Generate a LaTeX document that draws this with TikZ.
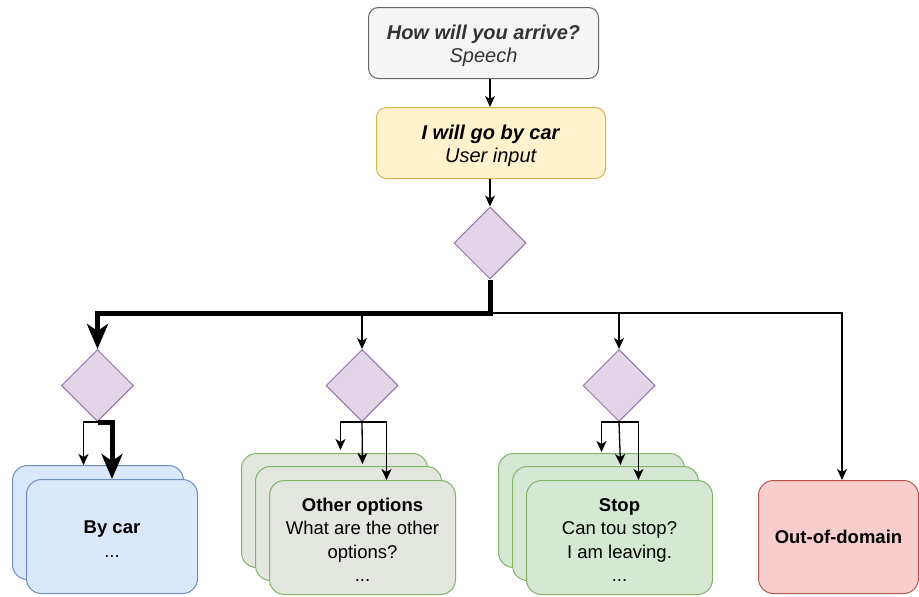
\documentclass[tikz,border=0pt]{standalone}
\usepackage{fontspec}
\setmainfont{Liberation Sans}
\usetikzlibrary{shapes.geometric,arrows.meta}
\definecolor{grayfill}{HTML}{F5F5F5}
\definecolor{graystroke}{HTML}{666666}
\definecolor{graytext}{HTML}{333333}
\definecolor{yelfill}{HTML}{FFF2CC}
\definecolor{yelstroke}{HTML}{D6B656}
\definecolor{purfill}{HTML}{E1D5E7}
\definecolor{purstroke}{HTML}{9673A6}
\definecolor{bluefill}{HTML}{DAE8FC}
\definecolor{bluestroke}{HTML}{6C8EBF}
\definecolor{greenfill}{HTML}{D5E8D4}
\definecolor{greyfill}{HTML}{E4E7DF}
\definecolor{greenstroke}{HTML}{82B366}
\definecolor{redfill}{HTML}{F8CECC}
\definecolor{redstroke}{HTML}{B85450}
\tikzset{
  txt/.style={font=\fontsize{18.5}{23.5}\selectfont, align=center, inner sep=0pt},
  topbox/.style={txt, font=\fontsize{20}{23}\selectfont, draw, rectangle, rounded corners=10pt, line width=1pt, anchor=north west},
  card/.style={txt, draw, rectangle, rounded corners=15pt, line width=1pt, anchor=north west,
     minimum width=186pt, minimum height=114pt},
  dec/.style={draw=purstroke, fill=purfill, diamond, aspect=1, minimum width=72pt, minimum height=72pt, inner sep=0pt, line width=1pt},
  conn/.style={line width=1.3pt, -{Stealth[length=11pt,width=10pt,inset=3pt]}},
  bigconn/.style={line width=5pt, line join=miter, -{Stealth[length=25pt,width=21pt,inset=7pt]}},
}
\newcommand{\topstrut}{\rule{0pt}{20.5pt}}
\newcommand{\cardstrut}{\rule{0pt}{18pt}}
\begin{document}
\begin{tikzpicture}[x=1pt,y=-1pt]
\useasboundingbox (0,0) rectangle (919,597);
% top boxes
\node[topbox, fill=grayfill, draw=graystroke, text=graytext, minimum width=230pt, minimum height=71pt] (q) at (368,7)
  {\topstrut\textbf{\textit{How will you arrive?}}\\\textit{Speech}};
\node[topbox, fill=yelfill, draw=yelstroke, minimum width=229pt, minimum height=71pt] (u) at (376,107)
  {\topstrut\textbf{\textit{I will go by car}}\\\textit{User input}};
% diamonds
\node[dec] (d0) at (490,243) {};
\node[dec] (d1) at (97.5,385.5) {};
\node[dec] (d2) at (362,385.5) {};
\node[dec] (d3) at (619,385.5) {};
% blue cards
\node[card, fill=bluefill, draw=bluestroke, minimum width=171pt] (b1a) at (12,465) {};
\node[card, fill=bluefill, draw=bluestroke, minimum width=171pt] (b1b) at (26,479) {\cardstrut\textbf{By car}\\...};
% other options cards
\node[card, fill=greyfill, draw=greenstroke] (b2a) at (241,453) {};
\node[card, fill=greyfill, draw=greenstroke] (b2b) at (255,466) {};
\node[card, fill=greyfill, draw=greenstroke] (b2c) at (269,480) {\cardstrut\textbf{Other options}\\What are the other\\options?\\...};
% stop cards
\node[card, fill=greenfill, draw=greenstroke] (b3a) at (498,453) {};
\node[card, fill=greenfill, draw=greenstroke] (b3b) at (512,466) {};
\node[card, fill=greenfill, draw=greenstroke] (b3c) at (526,480) {\cardstrut\textbf{Stop}\\Can tou stop?\\I am leaving.\\...};
% out of domain
\node[card, fill=redfill, draw=redstroke, minimum width=160pt, minimum height=113pt] (ood) at (758,480) {\textbf{Out-of-domain}};
% connectors
\draw[conn] (q.south -| d0) -- (u.north -| d0);
\draw[conn] (u.south -| d0) -- (d0.north);
\coordinate (bus) at (490,313);
\draw[conn] (bus) -| (ood.north -| 842,0);
\draw[conn] (bus -| d2.north) -- (d2.north);
\draw[conn] (bus -| d3.north) -- (d3.north);
\draw[bigconn] (d0.south) -- (bus) -| (d1.north);
% diamond 1 outputs
\draw[conn] (d1.south) -| ([xshift=-14.5pt]b1a.north);
\draw[bigconn] (d1.south) -| (b1b.north);
% diamond 2 outputs
\draw[conn] (d2.south) -| ([xshift=6pt,yshift=3pt]b2a.north);
\draw[conn] (d2.south) -- ([xshift=14pt,yshift=2pt]b2b.north);
\draw[conn] (d2.south) -| ([xshift=24pt]b2c.north);
% diamond 3 outputs
\draw[conn] (d3.south) -| ([xshift=10pt,yshift=1pt]b3a.north);
\draw[conn] (d3.south) -- ([xshift=15pt,yshift=1pt]b3b.north);
\draw[conn] (d3.south) -| ([xshift=19pt]b3c.north);
\end{tikzpicture}
\end{document}
